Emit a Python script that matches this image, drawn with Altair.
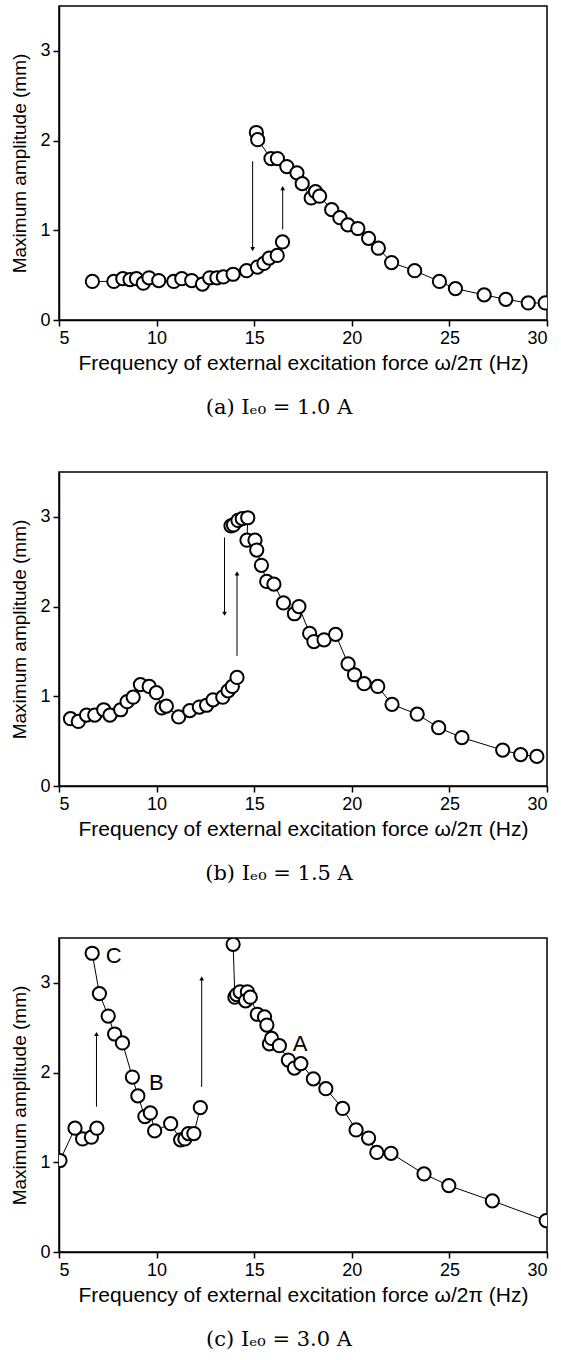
import altair as alt
import pandas as pd

# ---------- Panel (a): I_e0 = 1.0 A ----------
a_low_x = [6.71, 7.81, 8.27, 8.64, 8.97, 9.32, 9.61, 10.11, 10.88, 11.29, 11.80, 12.35, 12.72,
           13.09, 13.42, 13.92, 14.61, 15.17, 15.50, 15.77, 16.18, 16.45]
a_low_y = [0.43, 0.43, 0.46, 0.45, 0.46, 0.41, 0.47, 0.44, 0.43, 0.46, 0.44, 0.40, 0.47,
           0.47, 0.48, 0.51, 0.55, 0.59, 0.63, 0.69, 0.72, 0.87]
a_up_x = [15.11, 15.18, 15.86, 16.19, 16.67, 17.19, 17.46, 17.92, 18.14, 18.35, 18.97, 19.39,
          19.80, 20.31, 20.86, 21.36, 22.04, 23.22, 24.49, 25.31, 26.78, 27.89, 29.04, 29.91]
a_up_y = [2.09, 2.01, 1.80, 1.80, 1.71, 1.64, 1.52, 1.36, 1.43, 1.38, 1.23, 1.14,
          1.06, 1.02, 0.91, 0.80, 0.64, 0.55, 0.43, 0.35, 0.28, 0.23, 0.19, 0.19]
a_arrow_x = [14.92, 16.46]
a_arrow_from = [1.77, 1.01]
a_arrow_to = [0.79, 1.47]

# ---------- Panel (b): I_e0 = 1.5 A ----------
b_low_x = [5.59, 5.99, 6.41, 6.83, 7.29, 7.61, 8.16, 8.49, 8.80, 9.17, 9.62, 9.99, 10.27, 10.50,
           11.13, 11.70, 12.19, 12.56, 12.89, 13.39, 13.66, 13.88, 14.12]
b_low_y = [0.75, 0.72, 0.79, 0.79, 0.85, 0.79, 0.85, 0.94, 0.99, 1.13, 1.11, 1.04, 0.87, 0.89,
           0.77, 0.84, 0.88, 0.90, 0.96, 0.99, 1.06, 1.11, 1.21]
b_up_x = [13.81, 13.94, 14.17, 14.39, 14.67, 14.63, 15.04, 15.13, 15.37, 15.64, 16.01, 16.50,
          17.06, 17.29, 17.84, 18.06, 18.58, 19.17, 19.81, 20.14, 20.63, 21.33, 22.06, 23.35,
          24.45, 25.64, 27.73, 28.65, 29.48]
b_up_y = [2.90, 2.91, 2.96, 2.98, 2.99, 2.74, 2.74, 2.63, 2.46, 2.28, 2.25, 2.04,
          1.92, 2.00, 1.70, 1.61, 1.63, 1.69, 1.36, 1.24, 1.14, 1.11, 0.91, 0.80,
          0.65, 0.54, 0.40, 0.35, 0.33]
b_arrow_x = [13.48, 14.12]
b_arrow_from = [2.77, 1.45]
b_arrow_to = [1.92, 2.37]

# ---------- Panel (c): I_e0 = 3.0 A ----------
c_low_x = [5.05, 5.82, 6.21, 6.66, 6.94]
c_low_y = [1.02, 1.38, 1.26, 1.28, 1.38]
c_mid_x = [6.70, 7.07, 7.52, 7.85, 8.25, 8.76, 9.04, 9.40, 9.68, 9.90, 10.72, 11.23, 11.45,
           11.63, 11.91, 12.24]
c_mid_y = [3.33, 2.88, 2.63, 2.43, 2.33, 1.95, 1.74, 1.51, 1.55, 1.35, 1.43, 1.25, 1.26,
           1.32, 1.32, 1.61]
c_up_x = [13.92, 14.01, 14.10, 14.28, 14.65, 14.56, 14.80, 15.16, 15.53, 15.65, 15.78, 15.89,
          16.29, 16.75, 17.06, 17.39, 18.03, 18.67, 19.53, 20.22, 20.86, 21.28, 22.01, 23.70,
          24.97, 27.20, 29.96]
c_up_y = [3.43, 2.84, 2.87, 2.90, 2.90, 2.80, 2.84, 2.65, 2.62, 2.53, 2.32, 2.38,
          2.30, 2.14, 2.05, 2.10, 1.93, 1.82, 1.60, 1.36, 1.27, 1.11, 1.10, 0.87,
          0.74, 0.57, 0.35]
c_arrow_x = [6.92, 12.31]
c_arrow_from = [1.62, 1.84]
c_arrow_to = [2.43, 3.05]
c_label_text = ["C", "B", "A"]
c_label_x = [7.80, 9.99, 17.35]
c_label_y = [3.30, 1.88, 2.32]

X_TICKS = [5, 10, 15, 20, 25, 30]
Y_TICKS = [0, 1, 2, 3]
Y_TITLE = "Maximum amplitude (mm)"


def panel(branches, ax, afrom, ato, caption, xtitle, labels=None):
    rows = []
    for bi, (xs, ys) in enumerate(branches):
        for i, (x, y) in enumerate(zip(xs, ys)):
            rows.append({"f": x, "amp": y, "branch": bi, "order": i})
    df = pd.DataFrame(rows)

    xenc = alt.X("f:Q", scale=alt.Scale(domain=[5, 30], nice=False, zero=False),
                 axis=alt.Axis(values=X_TICKS, format="d", title=xtitle))
    yenc = alt.Y("amp:Q", scale=alt.Scale(domain=[0, 3.5], nice=False),
                 axis=alt.Axis(values=Y_TICKS, format="d", title=Y_TITLE))

    line = alt.Chart(df).mark_line(color="black", strokeWidth=1, clip=True).encode(
        x=xenc, y=yenc, detail="branch:N", order="order:Q")
    pts = alt.Chart(df).mark_point(shape="circle", filled=True, fill="white", stroke="black",
                                   strokeWidth=2, opacity=1, size=175, clip=True).encode(
        x=xenc, y=yenc)

    adf = pd.DataFrame({"ax": ax, "a1": afrom, "a2": ato,
                        "dir": ["up" if t > s else "down" for s, t in zip(afrom, ato)]})
    rule = alt.Chart(adf).mark_rule(color="black", strokeWidth=1).encode(
        x=alt.X("ax:Q"), y=alt.Y("a1:Q"), y2="a2:Q")
    head = alt.Chart(adf).mark_point(filled=True, color="black", size=22, opacity=1).encode(
        x="ax:Q", y="a2:Q",
        shape=alt.Shape("dir:N", scale=alt.Scale(domain=["up", "down"],
                                                  range=["triangle-up", "triangle-down"]),
                        legend=None))
    layers = [line, pts, rule, head]
    if labels is not None:
        ldf = pd.DataFrame({"t": labels[0], "lx": labels[1], "ly": labels[2]})
        txt = alt.Chart(ldf).mark_text(font="Liberation Sans", fontSize=22, color="black",
                                       align="center", baseline="middle").encode(
            x="lx:Q", y="ly:Q", text="t:N")
        layers.append(txt)
    return alt.layer(*layers).properties(
        width=488, height=314,
        title=alt.TitleParams(text=caption, orient="bottom", font="DejaVu Serif",
                              fontSize=21, fontWeight="normal", color="black",
                              anchor="middle", dx=-24, offset=24))


XT = "Frequency of external excitation force \u03c9/2\u03c0 (Hz)"
XT_B = "Frequency of external excitation force \u03c9/2\u03c0  (Hz)"

pa = panel([(a_low_x, a_low_y), (a_up_x, a_up_y)], a_arrow_x, a_arrow_from, a_arrow_to,
           "(a)  I\u2091\u2080  =  1.0 A", XT)
pb = panel([(b_low_x, b_low_y), (b_up_x, b_up_y)], b_arrow_x, b_arrow_from, b_arrow_to,
           "(b)  I\u2091\u2080  =  1.5 A", XT_B)
pc = panel([(c_low_x, c_low_y), (c_mid_x, c_mid_y), (c_up_x, c_up_y)], c_arrow_x,
           c_arrow_from, c_arrow_to, "(c)  I\u2091\u2080  =  3.0 A", XT,
           labels=(c_label_text, c_label_x, c_label_y))

chart = alt.vconcat(pa, pb, pc, spacing=52).properties(
    padding={"left": 10, "top": 5, "right": 0, "bottom": 0}
).configure_view(stroke="black", strokeWidth=1.5).configure_axis(
    grid=False, domainColor="black", domainWidth=1.5, tickColor="black", tickSize=6,
    tickWidth=1.5, labelFont="Liberation Sans", labelFontSize=18, labelColor="black",
    labelPadding=3, titleFont="Liberation Sans", titleFontSize=21, titleFontWeight="normal",
    titleColor="black", titlePadding=5
).configure_axisY(titlePadding=10, titleFontSize=19)

chart.save("out.html", embed_options={"renderer": "svg", "actions": False})
